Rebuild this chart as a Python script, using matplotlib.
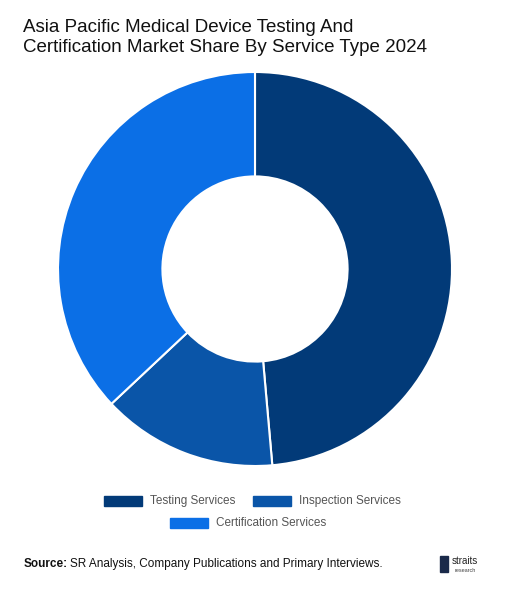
import matplotlib.pyplot as plt
from matplotlib.patches import Rectangle

labels = ['Testing Services', 'Inspection Services', 'Certification Services']
shares = [48.6, 14.4, 37.0]
colors = ['#023a78', '#0a55a8', '#0b6fe6']

plt.rcParams['font.family'] = ['Liberation Sans', 'DejaVu Sans']
fig = plt.figure(figsize=(5.14, 5.97), dpi=100)

fig.text(0.045, 0.968, 'Asia Pacific Medical Device Testing And\nCertification Market Share By Service Type 2024',
         ha='left', va='top', fontsize=13.5, color='#111111', linespacing=1.2)

r = 197
ax = fig.add_axes([(255 - r) / 514, 1 - (269 + r) / 597, 2 * r / 514, 2 * r / 597])
ax.pie(shares, colors=colors, startangle=90, counterclock=False, radius=1,
       wedgeprops=dict(width=0.53, edgecolor='white', linewidth=1.5))
ax.set_xlim(-1, 1)
ax.set_ylim(-1, 1)
ax.set_aspect('equal')

# legend
def entry(x, y, c, t):
    fig.patches.append(Rectangle((x / 514, 1 - (y + 5) / 597), 38 / 514, 10 / 597,
                                 transform=fig.transFigure, color=c))
    fig.text((x + 46) / 514, 1 - y / 597, t, fontsize=8.5, color='#555555', va='center')

entry(104, 501, colors[0], labels[0])
entry(253, 501, colors[1], labels[1])
entry(170, 523, colors[2], labels[2])

fig.text(24 / 514, 1 - 564 / 597, 'Source:', fontsize=8.5, color='#111111', va='center', fontweight='bold')
fig.text(70 / 514, 1 - 564 / 597, 'SR Analysis, Company Publications and Primary Interviews.',
         fontsize=8.5, color='#111111', va='center')
fig.text(452 / 514, 1 - 561 / 597, 'straits', fontsize=7, color='#222222', va='center')
fig.text(455 / 514, 1 - 570 / 597, 'research', fontsize=4, color='#444444', va='center')
fig.patches.append(Rectangle((440 / 514, 1 - 572 / 597), 8 / 514, 16 / 597,
                             transform=fig.transFigure, color='#1a2a4a'))

fig.savefig('out.png', dpi=100, facecolor='white')
